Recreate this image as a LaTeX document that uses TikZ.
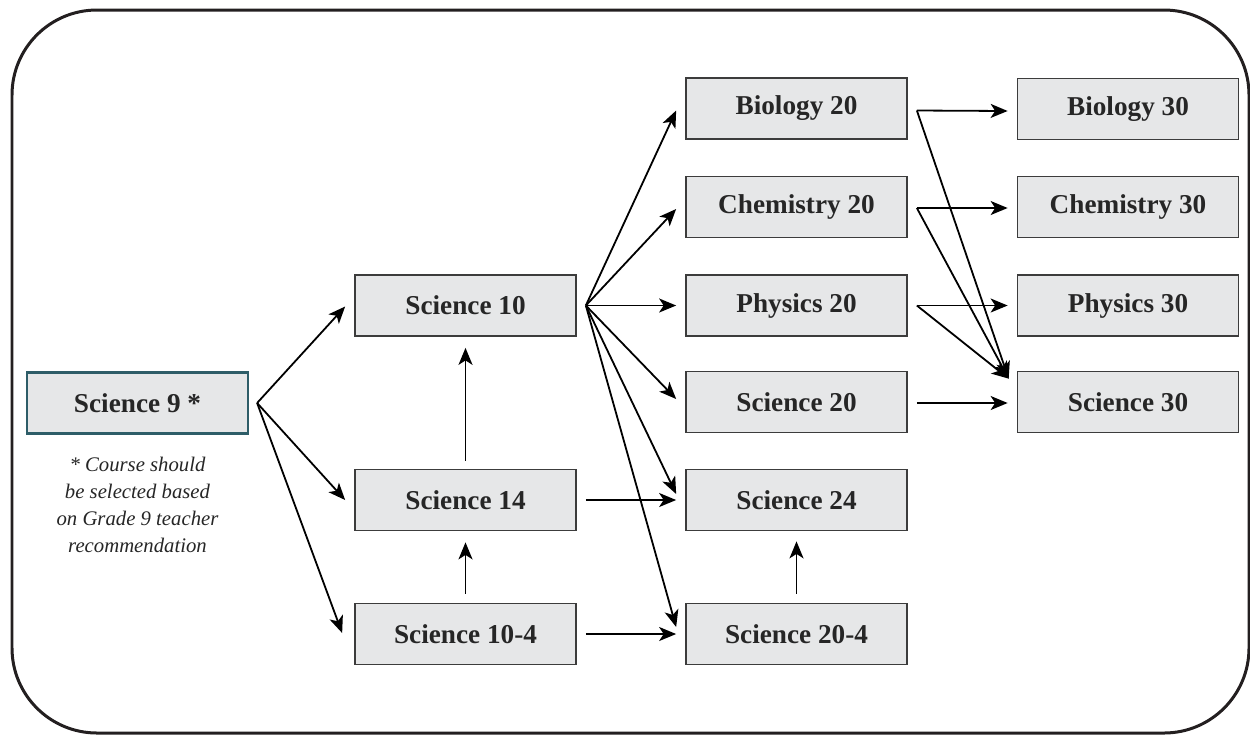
\documentclass[tikz,border=0pt]{standalone}
\usepackage{fontspec}
\setmainfont{Liberation Serif}
\usetikzlibrary{arrows.meta,calc}
\definecolor{boxfill}{HTML}{E6E7E8}
\definecolor{boxline}{HTML}{3C3C3C}
\definecolor{tealline}{HTML}{2E5D68}
\definecolor{txt}{HTML}{262626}
\definecolor{outer}{HTML}{231F20}
\begin{document}
\begin{tikzpicture}[x=0.02cm,y=-0.02cm,
  course/.style={draw=boxline, line width=0.035cm, fill=boxfill,
    minimum width=4.42cm, minimum height=1.22cm, inner sep=0pt,
    font=\fontsize{15.5}{18}\selectfont\bfseries, text=txt},
  startbox/.style={course, draw=tealline, line width=0.045cm},
  note/.style={align=center, text=txt, inner sep=0pt,
    font=\fontsize{11.8}{15.4}\selectfont\itshape},
  link/.style={-{Stealth[length=0.34cm,width=0.28cm,inset=0.09cm]}, line width=0.036cm, black},
  frame/.style={draw=outer, line width=0.06cm, rounded corners=1.7cm}]
\useasboundingbox (0,0) rectangle (1250,735);
\draw[frame] (12,10) rectangle (1249,733);

% column 1
\node[startbox] (s9) at (137.5,403) {Science 9 *};
\node[note] (fn) at (137.5,505) {* Course should\\be selected based\\on Grade 9 teacher\\recommendation};

% column 2
\node[course] (s10) at (465.5,305.5) {Science 10};
\node[course] (s14) at (465.5,500) {Science 14};
\node[course] (s104) at (465.5,634) {Science 10-4};

% column 3
\node[course] (bio20) at (796.5,108.5) {Biology 20};
\node[course] (chem20) at (796.5,207) {Chemistry 20};
\node[course] (phys20) at (796.5,305.5) {Physics 20};
\node[course] (sci20) at (796.5,402) {Science 20};
\node[course] (sci24) at (796.5,500) {Science 24};
\node[course] (sci204) at (796.5,634) {Science 20-4};

% column 4
\node[course] (bio30) at (1128,109) {Biology 30};
\node[course] (chem30) at (1128,207) {Chemistry 30};
\node[course] (phys30) at (1128,305.5) {Physics 30};
\node[course] (sci30) at (1128,402) {Science 30};

% Science 9 fan
\coordinate (s9o) at ($(s9.east)+(8,0)$);
\draw[link] (s9o) -- ($(s10.west)+(-9,1)$);
\draw[link] (s9o) -- ($(s14.west)+(-9,0)$);
\draw[link] (s9o) -- ($(s104.west)+(-12,-1)$);

% Science 10 fan
\coordinate (s10o) at ($(s10.east)+(9,0)$);
\draw[link] (s10o) -- ($(bio20.west)+(-9,2)$);
\draw[link] (s10o) -- ($(chem20.west)+(-9,2)$);
\draw[link] (s10o) -- ($(phys20.west)+(-9,0)$);
\draw[link] (s10o) -- ($(sci20.west)+(-9,-3)$);
\draw[link] (s10o) -- ($(sci24.west)+(-9,-6)$);
\draw[link] (s10o) -- ($(sci204.west)+(-9,-7)$);

% horizontal and vertical links
\draw[link] ($(s14.east)+(9,0)$) -- ($(sci24.west)+(-9,0)$);
\draw[link] ($(s104.east)+(9,0)$) -- ($(sci204.west)+(-9,0)$);
\draw[link] ($(s14.north)+(0,-8)$) -- ($(s10.south)+(0,11)$);
\draw[link] ($(s104.north)+(0,-9)$) -- ($(s14.south)+(0,11)$);
\draw[link] ($(sci204.north)+(0,-9)$) -- ($(sci24.south)+(0,10)$);

% to grade 12
\coordinate (s30in) at ($(sci30.north west)+(-8,8)$);
\coordinate (bio20o) at ($(bio20.east)+(9,2)$);
\coordinate (chem20o) at ($(chem20.east)+(9,1)$);
\coordinate (phys20o) at ($(phys20.east)+(9,0)$);
\draw[link] (bio20o) -- ($(bio30.west)+(-9,2)$);
\draw[link] (chem20o) -- ($(chem30.west)+(-9,1)$);
\draw[link] (phys20o) -- ($(phys30.west)+(-9,0)$);
\draw[link] ($(sci20.east)+(9,1)$) -- ($(sci30.west)+(-9,1)$);
\draw[link] (bio20o) -- (s30in);
\draw[link] (chem20o) -- (s30in);
\draw[link] (phys20o) -- (s30in);
\end{tikzpicture}
\end{document}
